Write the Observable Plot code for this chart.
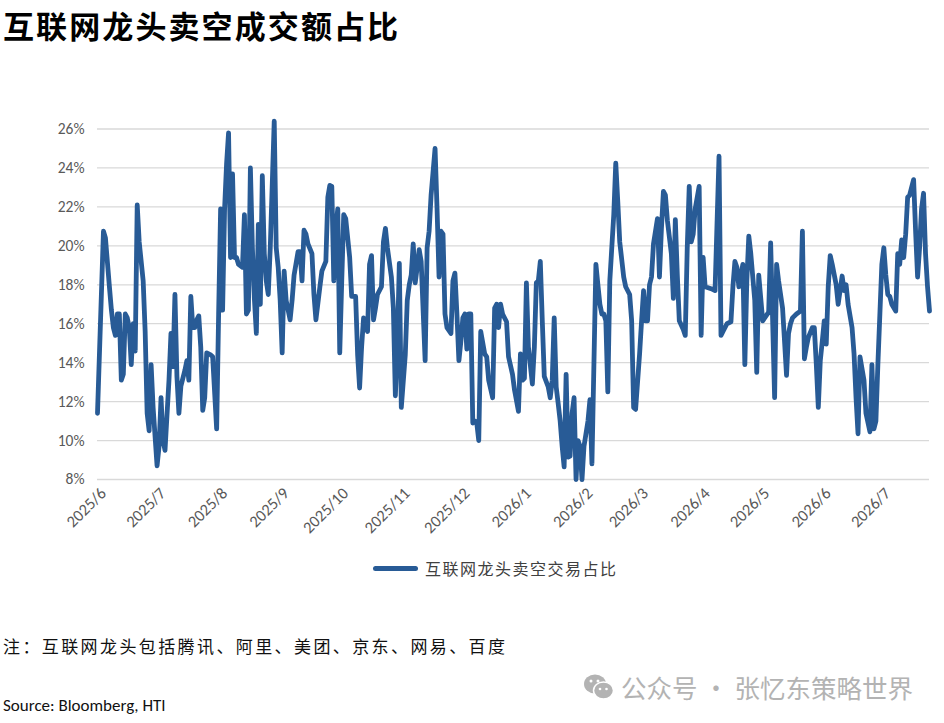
<!DOCTYPE html>
<html>
<head>
<meta charset="utf-8">
<script src="https://cdn.jsdelivr.net/npm/d3@7"></script>
<script src="https://cdn.jsdelivr.net/npm/@observablehq/plot@0.6"></script>
<style>
  html, body { margin: 0; padding: 0; background: #fff; }
  #page { position: relative; width: 944px; height: 723px; overflow: hidden; background: #fff; }
  .abs { position: absolute; white-space: nowrap; }
  #title { left: 3px; top: 2px; font-family: "Noto Sans CJK SC", sans-serif; font-weight: 700; font-size: 31px; color: #000; letter-spacing: 2.1px; }
  #chart { left: 0; top: 100px; }
  #legend { left: 373px; top: 556px; display: flex; align-items: center; font-family: "Noto Sans CJK SC", sans-serif; font-size: 16px; color: #404040; letter-spacing: 1.5px; }
  #legend .swatch { width: 45px; height: 5px; border-radius: 3px; background: #285b96; margin-right: 7px; }
  #note { left: 3px; top: 633px; font-family: "Noto Sans CJK SC", sans-serif; font-size: 17px; color: #111; letter-spacing: 2.4px; }
  #wm { left: 583px; top: 668px; display: flex; align-items: center; font-family: "Noto Sans CJK SC", sans-serif; font-size: 25.5px; color: #b3b3b3; }
  #source { left: 3px; top: 695px; font-family: Carlito, Lato, "Open Sans", sans-serif; font-size: 17px; color: #111; }
</style>
</head>
<body>
<div id="page">
  <div id="title" class="abs">互联网龙头卖空成交额占比</div>
  <div id="chart" class="abs"></div>
  <div id="legend" class="abs"><div class="swatch"></div><span>互联网龙头卖空交易占比</span></div>
  <div id="note" class="abs">注：互联网龙头包括腾讯、阿里、美团、京东、网易、百度</div>
  <div id="wm" class="abs">
    <svg width="32" height="28" viewBox="0 0 32 28" style="margin-right:6px">
      <ellipse cx="12" cy="11" rx="11" ry="9.5" fill="#b3b3b3"/>
      <ellipse cx="20.5" cy="17.5" rx="10" ry="8.5" fill="#b3b3b3" stroke="#fff" stroke-width="1.5"/>
      <circle cx="8" cy="8" r="1.5" fill="#fff"/><circle cx="15" cy="8" r="1.5" fill="#fff"/>
      <circle cx="17" cy="16" r="1.3" fill="#fff"/><circle cx="23.5" cy="16" r="1.3" fill="#fff"/>
    </svg>
    <span>公众号 · 张忆东策略世界</span>
  </div>
  <div id="source" class="abs">Source: Bloomberg, HTI</div>
</div>
<script>
const dates = [
"2025-05-29","2025-06-01","2025-06-02","2025-06-04","2025-06-05","2025-06-06","2025-06-07","2025-06-08","2025-06-09","2025-06-10",
"2025-06-11","2025-06-12","2025-06-13","2025-06-14","2025-06-15","2025-06-16","2025-06-17","2025-06-18","2025-06-19","2025-06-21",
"2025-06-22","2025-06-23","2025-06-24","2025-06-25","2025-06-26","2025-06-28","2025-06-29","2025-06-30","2025-07-01","2025-07-02",
"2025-07-04","2025-07-05","2025-07-06","2025-07-07","2025-07-08","2025-07-09","2025-07-10","2025-07-12","2025-07-13","2025-07-14",
"2025-07-15","2025-07-16","2025-07-17","2025-07-18","2025-07-19","2025-07-20","2025-07-21","2025-07-22","2025-07-23","2025-07-25",
"2025-07-26","2025-07-28","2025-07-29","2025-07-30","2025-07-31","2025-08-01","2025-08-02","2025-08-03","2025-08-04","2025-08-05",
"2025-08-06","2025-08-07","2025-08-08","2025-08-10","2025-08-11","2025-08-12","2025-08-13","2025-08-14","2025-08-15","2025-08-16",
"2025-08-17","2025-08-18","2025-08-19","2025-08-20","2025-08-21","2025-08-22","2025-08-23","2025-08-24","2025-08-26","2025-08-27",
"2025-08-28","2025-08-29","2025-08-30","2025-08-31","2025-09-01","2025-09-03","2025-09-04","2025-09-05","2025-09-07","2025-09-08",
"2025-09-09","2025-09-10","2025-09-11","2025-09-12","2025-09-14","2025-09-15","2025-09-16","2025-09-18","2025-09-19","2025-09-21",
"2025-09-22","2025-09-23","2025-09-24","2025-09-25","2025-09-26","2025-09-27","2025-09-28","2025-09-29","2025-09-30","2025-10-01",
"2025-10-03","2025-10-04","2025-10-06","2025-10-07","2025-10-08","2025-10-09","2025-10-10","2025-10-12","2025-10-13","2025-10-14",
"2025-10-15","2025-10-16","2025-10-17","2025-10-19","2025-10-20","2025-10-21","2025-10-22","2025-10-24","2025-10-25","2025-10-26",
"2025-10-27","2025-10-28","2025-10-29","2025-10-31","2025-11-01","2025-11-02","2025-11-03","2025-11-04","2025-11-05","2025-11-06",
"2025-11-07","2025-11-08","2025-11-10","2025-11-11","2025-11-12","2025-11-13","2025-11-15","2025-11-16","2025-11-17","2025-11-18",
"2025-11-19","2025-11-20","2025-11-21","2025-11-23","2025-11-24","2025-11-25","2025-11-26","2025-11-27","2025-11-28","2025-11-29",
"2025-11-30","2025-12-01","2025-12-02","2025-12-03","2025-12-04","2025-12-05","2025-12-06","2025-12-07","2025-12-08","2025-12-10",
"2025-12-11","2025-12-12","2025-12-14","2025-12-15","2025-12-16","2025-12-17","2025-12-18","2025-12-19","2025-12-21","2025-12-22",
"2025-12-24","2025-12-25","2025-12-27","2025-12-28","2025-12-29","2025-12-30","2025-12-31","2026-01-01","2026-01-03","2026-01-04",
"2026-01-05","2026-01-06","2026-01-07","2026-01-08","2026-01-09","2026-01-11","2026-01-12","2026-01-13","2026-01-14","2026-01-15",
"2026-01-16","2026-01-17","2026-01-18","2026-01-19","2026-01-20","2026-01-21","2026-01-22","2026-01-23","2026-01-24","2026-01-25",
"2026-01-26","2026-01-27","2026-01-28","2026-01-29","2026-01-31","2026-02-01","2026-02-02","2026-02-04","2026-02-05","2026-02-06",
"2026-02-07","2026-02-08","2026-02-09","2026-02-10","2026-02-11","2026-02-13","2026-02-14","2026-02-15","2026-02-16","2026-02-18",
"2026-02-19","2026-02-21","2026-02-22","2026-02-23","2026-02-24","2026-02-26","2026-02-27","2026-02-28","2026-03-01","2026-03-02",
"2026-03-03","2026-03-04","2026-03-05","2026-03-07","2026-03-08","2026-03-09","2026-03-10","2026-03-11","2026-03-12","2026-03-14",
"2026-03-15","2026-03-16","2026-03-17","2026-03-18","2026-03-20","2026-03-21","2026-03-22","2026-03-23","2026-03-24","2026-03-25",
"2026-03-26","2026-03-28","2026-03-29","2026-03-30","2026-03-31","2026-04-03","2026-04-05","2026-04-07","2026-04-08","2026-04-09",
"2026-04-11","2026-04-13","2026-04-14","2026-04-15","2026-04-16","2026-04-17","2026-04-19","2026-04-20","2026-04-21","2026-04-22",
"2026-04-23","2026-04-25","2026-04-26","2026-04-27","2026-04-29","2026-04-30","2026-05-02","2026-05-03","2026-05-05","2026-05-06",
"2026-05-07","2026-05-09","2026-05-10","2026-05-11","2026-05-12","2026-05-13","2026-05-14","2026-05-16","2026-05-18","2026-05-19",
"2026-05-20","2026-05-21","2026-05-22","2026-05-24","2026-05-25","2026-05-26","2026-05-27","2026-05-28","2026-05-29","2026-05-30",
"2026-05-31","2026-06-01","2026-06-02","2026-06-03","2026-06-05","2026-06-06","2026-06-08","2026-06-09","2026-06-10","2026-06-11",
"2026-06-13","2026-06-14","2026-06-15","2026-06-16","2026-06-17","2026-06-19","2026-06-20","2026-06-22","2026-06-23","2026-06-24",
"2026-06-25","2026-06-26","2026-06-28","2026-06-29","2026-06-30","2026-07-01","2026-07-02","2026-07-03","2026-07-05","2026-07-06",
"2026-07-07","2026-07-08","2026-07-09","2026-07-10","2026-07-11","2026-07-12","2026-07-14","2026-07-15","2026-07-16","2026-07-17",
"2026-07-18","2026-07-19","2026-07-20","2026-07-21","2026-07-22"
];
const shortShare = [
11.4,20.75,20.4,17.9,16.7,15.8,15.4,16.5,16.5,13.1,
13.4,16.5,16.3,15.8,13.9,16.0,14.6,22.1,20.2,18.2,
15.6,11.4,10.5,13.9,11.7,8.7,9.7,12.2,10.0,9.5,
13.1,15.5,13.8,17.5,13.3,11.4,12.8,13.6,14.1,13.1,
17.4,15.8,15.8,16.2,16.4,14.8,11.55,12.2,14.5,14.4,
14.3,10.6,16.5,21.9,16.7,21.9,24.2,25.8,19.4,23.7,
19.4,19.4,19.05,18.9,21.6,16.5,16.7,24.0,19.9,17.3,
15.5,21.1,17.0,23.6,19.6,18.2,17.5,19.9,26.4,19.9,
18.9,17.2,14.5,18.7,17.2,16.2,17.2,18.5,19.7,19.7,
18.2,20.8,20.6,20.1,19.6,17.5,16.2,17.9,18.7,19.2,
22.5,23.1,23.05,18.2,20.9,21.9,14.5,18.2,21.6,21.4,
19.4,17.4,17.4,14.4,12.7,14.8,16.3,15.6,19.05,19.5,
16.2,16.8,17.5,17.9,20.2,20.9,19.9,18.4,16.8,12.3,
14.8,19.1,11.7,14.4,17.2,18.0,18.5,20.1,18.1,18.9,
19.8,19.2,14.1,19.9,20.75,22.6,25.0,21.9,18.4,20.75,
20.6,16.5,15.8,15.5,18.2,18.6,16.5,14.1,15.1,16.3,
16.5,14.7,16.5,16.5,10.9,11.0,10.9,10.0,15.6,14.45,
14.3,13.1,12.2,16.8,17.0,15.8,17.0,16.5,16.1,14.3,
13.4,12.6,11.5,14.45,13.1,13.2,18.1,14.8,12.9,14.8,
18.1,18.2,19.2,16.15,13.3,12.75,12.2,13.1,16.3,12.75,
11.9,11.0,9.7,8.65,13.4,9.15,9.2,11.4,12.2,8.0,
10.0,9.7,8.0,9.7,11.0,12.1,8.8,19.05,18.0,17.0,
16.5,16.5,16.15,12.5,18.2,21.6,24.25,22.3,20.2,18.4,
17.9,17.5,16.15,11.7,11.6,14.45,16.15,17.7,16.15,16.15,
18.0,18.4,20.1,21.4,18.4,20.9,22.8,22.6,21.3,19.6,
17.3,21.35,18.5,16.15,15.7,15.4,19.9,23.05,20.2,20.6,
21.9,23.05,15.4,19.4,17.9,17.8,17.7,24.6,15.4,15.6,
16.0,16.1,17.9,19.2,18.9,17.9,19.05,13.9,18.2,20.5,
19.6,17.2,13.5,18.5,16.15,16.3,16.6,20.15,12.2,19.05,
18.2,16.8,15.1,13.35,15.5,16.0,16.3,16.5,16.65,20.75,
14.2,14.8,15.3,15.8,15.8,13.9,11.7,14.1,15.1,16.15,
14.95,17.9,19.5,19.05,18.0,17.0,18.45,17.7,18.0,17.0,
15.8,14.45,12.2,10.35,14.3,13.1,11.4,10.45,13.9,10.6,
11.0,13.9,19.05,19.9,18.5,17.5,17.4,17.0,16.65,19.6,
19.05,20.3,19.4,20.6,22.5,22.6,23.4,20.75,18.4,19.9,
21.9,22.7,19.6,17.9,16.65
];
const yTicks = [8, 10, 12, 14, 16, 18, 20, 22, 24, 26];
const monthTicks = ["2025-06-01","2025-07-01","2025-08-01","2025-09-01","2025-10-01","2025-11-01","2025-12-01",
  "2026-01-01","2026-02-01","2026-03-01","2026-04-01","2026-05-01","2026-06-01","2026-07-01"];
const monthLabels = ["2025/6","2025/7","2025/8","2025/9","2025/10","2025/11","2025/12",
  "2026/1","2026/2","2026/3","2026/4","2026/5","2026/6","2026/7"];
const xStart = "2025-05-29", xEnd = "2026-07-22";

const toDate = s => new Date(s + "T00:00:00Z");
const data = dates.map((d, i) => ({date: toDate(d), value: shortShare[i]}));
const tickDates = monthTicks.map(toDate);

const chart = Plot.plot({
  width: 944,
  height: 430,
  marginLeft: 97,
  marginRight: 15,
  marginTop: 28.5,
  marginBottom: 51,
  style: {background: "transparent", overflow: "visible"},
  x: {type: "utc", domain: [toDate(xStart), toDate(xEnd)]},
  y: {domain: [8, 26]},
  marks: [
    Plot.ruleY(yTicks, {stroke: "#d9d9d9", strokeWidth: 1.3}),
    Plot.axisY({ticks: yTicks, tickFormat: d => d + "%", tickSize: 0, tickPadding: 13, label: null,
      fontSize: 15.5, fill: "#595959", fontFamily: "Carlito, Lato, 'Open Sans', sans-serif"}),
    Plot.axisX({ticks: tickDates, label: null,
      tickFormat: d => monthLabels[tickDates.findIndex(t => +t === +d)],
      tickRotate: -45, tickSize: 0, tickPadding: 11,
      fontSize: 16.5, fill: "#595959", fontFamily: "Carlito, Lato, 'Open Sans', sans-serif"}),
    Plot.line(data, {x: "date", y: "value", stroke: "#285b96", strokeWidth: 4.8,
      strokeLinejoin: "round", strokeLinecap: "round", clip: false})
  ]
});
document.getElementById("chart").appendChild(chart);
</script>
</body>
</html>
